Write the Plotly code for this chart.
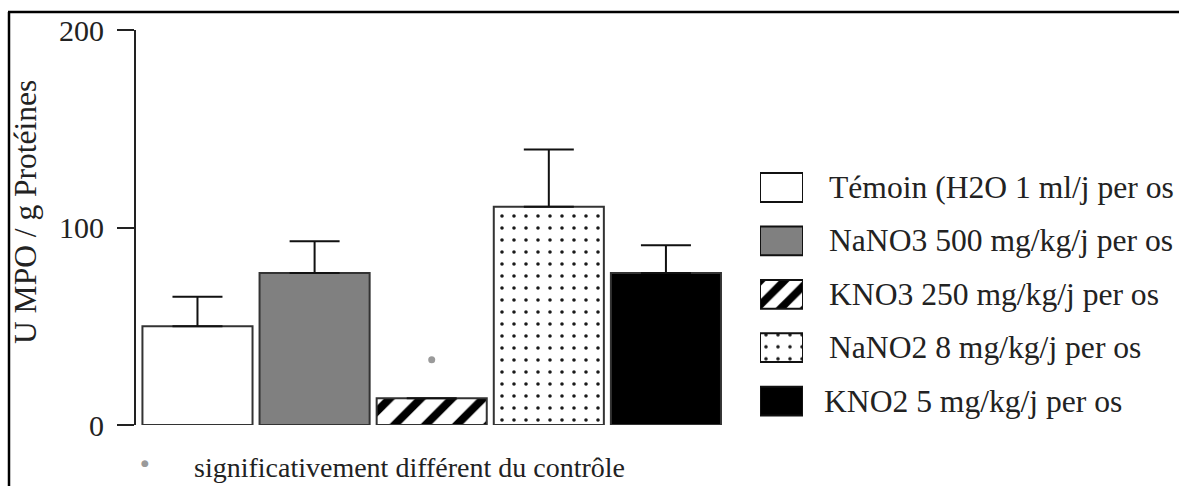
import plotly.graph_objects as go

# ---- data ----
groups = ["Témoin (H2O 1 ml/j per os", "NaNO3 500 mg/kg/j per os", "KNO3 250 mg/kg/j per os",
          "NaNO2 8 mg/kg/j per os", "KNO2 5 mg/kg/j per os"]
means = [50, 77, 13.5, 110.5, 77]
errors = [15, 16, None, 29, 14]
sig_groups = ["KNO3 250 mg/kg/j per os"]
sig_values = [33]
y_ticks = [0, 100, 200]
y_title = "U MPO / g Protéines"
footnote = "significativement différent du contrôle"

# ---- styles ----
# for patterned bars, marker colour is the pattern (foreground) colour
fill_colors = ["#ffffff", "#808080", "#000000", "#1a1a1a", "#000000"]
pat_shapes = ["", "", "/", ".", ""]
FONT = "Liberation Serif"
W, H = 1179, 486

def px_x(p):
    return p / W

def px_y(p):
    return (H - p) / H

fig = go.Figure()

# main bars
fig.add_trace(go.Bar(
    x=groups, y=means,
    marker=dict(color=fill_colors,
                line=dict(color="#333333", width=2),
                pattern=dict(shape=pat_shapes, size=[18, 18, 22, 12, 18],
                             solidity=[0.4, 0.4, 0.36, 0.07, 0.4], fillmode="replace")),
    error_y=dict(type="data", array=errors, arrayminus=[0] * len(errors), symmetric=False,
                 color="#111111", thickness=2, width=25),
    xaxis="x", yaxis="y", showlegend=False,
))

# significance marker
fig.add_trace(go.Scatter(
    x=sig_groups, y=sig_values, mode="markers",
    marker=dict(symbol="circle", size=7, color="#9a9a9a"),
    xaxis="x", yaxis="y", showlegend=False,
))

# legend swatches (auxiliary axes)
fig.add_trace(go.Bar(
    y=groups, x=[1] * len(groups), orientation="h", width=0.54,
    marker=dict(color=fill_colors,
                line=dict(color="#111111", width=2),
                pattern=dict(shape=pat_shapes, size=[10, 10, 17, 12, 10],
                             solidity=[0.3, 0.3, 0.45, 0.07, 0.3], fillmode="replace")),
    xaxis="x2", yaxis="y2", showlegend=False, hoverinfo="skip",
))

annotations = []
# legend labels
row_top, row_step = 187.5, 53.4
x_offsets = [0, 0, 0, 0, -5]
for i, g in enumerate(groups):
    annotations.append(dict(
        text=g, xref="paper", yref="paper", x=px_x(827 + x_offsets[i]), y=px_y(row_top + i * row_step),
        xanchor="left", yanchor="middle", showarrow=False,
        font=dict(family=FONT, size=31.6, color="#222222")))

# y-axis title
annotations.append(dict(
    text=y_title, xref="paper", yref="paper", x=px_x(25), y=px_y(212),
    xanchor="center", yanchor="middle", textangle=-90, showarrow=False,
    font=dict(family=FONT, size=31.5, color="#222222")))

# footnote
annotations.append(dict(
    text="●", xref="paper", yref="paper", x=px_x(145), y=px_y(463),
    xanchor="center", yanchor="middle", showarrow=False,
    font=dict(family="DejaVu Sans", size=9, color="#9a9a9a")))
annotations.append(dict(
    text=footnote, xref="paper", yref="paper", x=px_x(192), y=px_y(467),
    xanchor="left", yanchor="middle", showarrow=False,
    font=dict(family=FONT, size=28, color="#222222")))

shapes = [
    dict(type="line", xref="paper", yref="paper", x0=px_x(8), x1=1.0, y0=px_y(12), y1=px_y(12),
         line=dict(color="#000000", width=2.5)),
    dict(type="line", xref="paper", yref="paper", x0=px_x(9), x1=px_x(9), y0=px_y(12), y1=0.0,
         line=dict(color="#000000", width=2.5)),
]

fig.update_layout(
    template="none",
    width=W, height=H,
    margin=dict(l=0, r=0, t=0, b=0, pad=0, autoexpand=False),
    paper_bgcolor="#ffffff", plot_bgcolor="#ffffff",
    bargap=0.06,
    xaxis=dict(domain=[px_x(136), px_x(728)], type="category", range=[-0.525, 4.53],
               visible=False, fixedrange=True, automargin=False),
    yaxis=dict(domain=[px_y(425), px_y(30)], range=[0, 200], tickvals=y_ticks,
               showline=True, linecolor="#222222", linewidth=2,
               ticks="outside", ticklen=17, tickwidth=2, tickcolor="#222222",
               ticklabelstandoff=7, showgrid=False, zeroline=False, automargin=False,
               tickfont=dict(family=FONT, size=30, color="#222222")),
    xaxis2=dict(domain=[px_x(760), px_x(803)], range=[0, 1], visible=False, anchor="y2",
                automargin=False),
    yaxis2=dict(domain=[px_y(row_top + 4.5 * row_step), px_y(row_top - 0.5 * row_step)],
                type="category", range=[4.5, -0.5], visible=False, anchor="x2", automargin=False),
    annotations=annotations,
    shapes=shapes,
)

fig.write_html("out.html", config={"displayModeBar": False},
               post_script="document.body.style.margin='0px';")
